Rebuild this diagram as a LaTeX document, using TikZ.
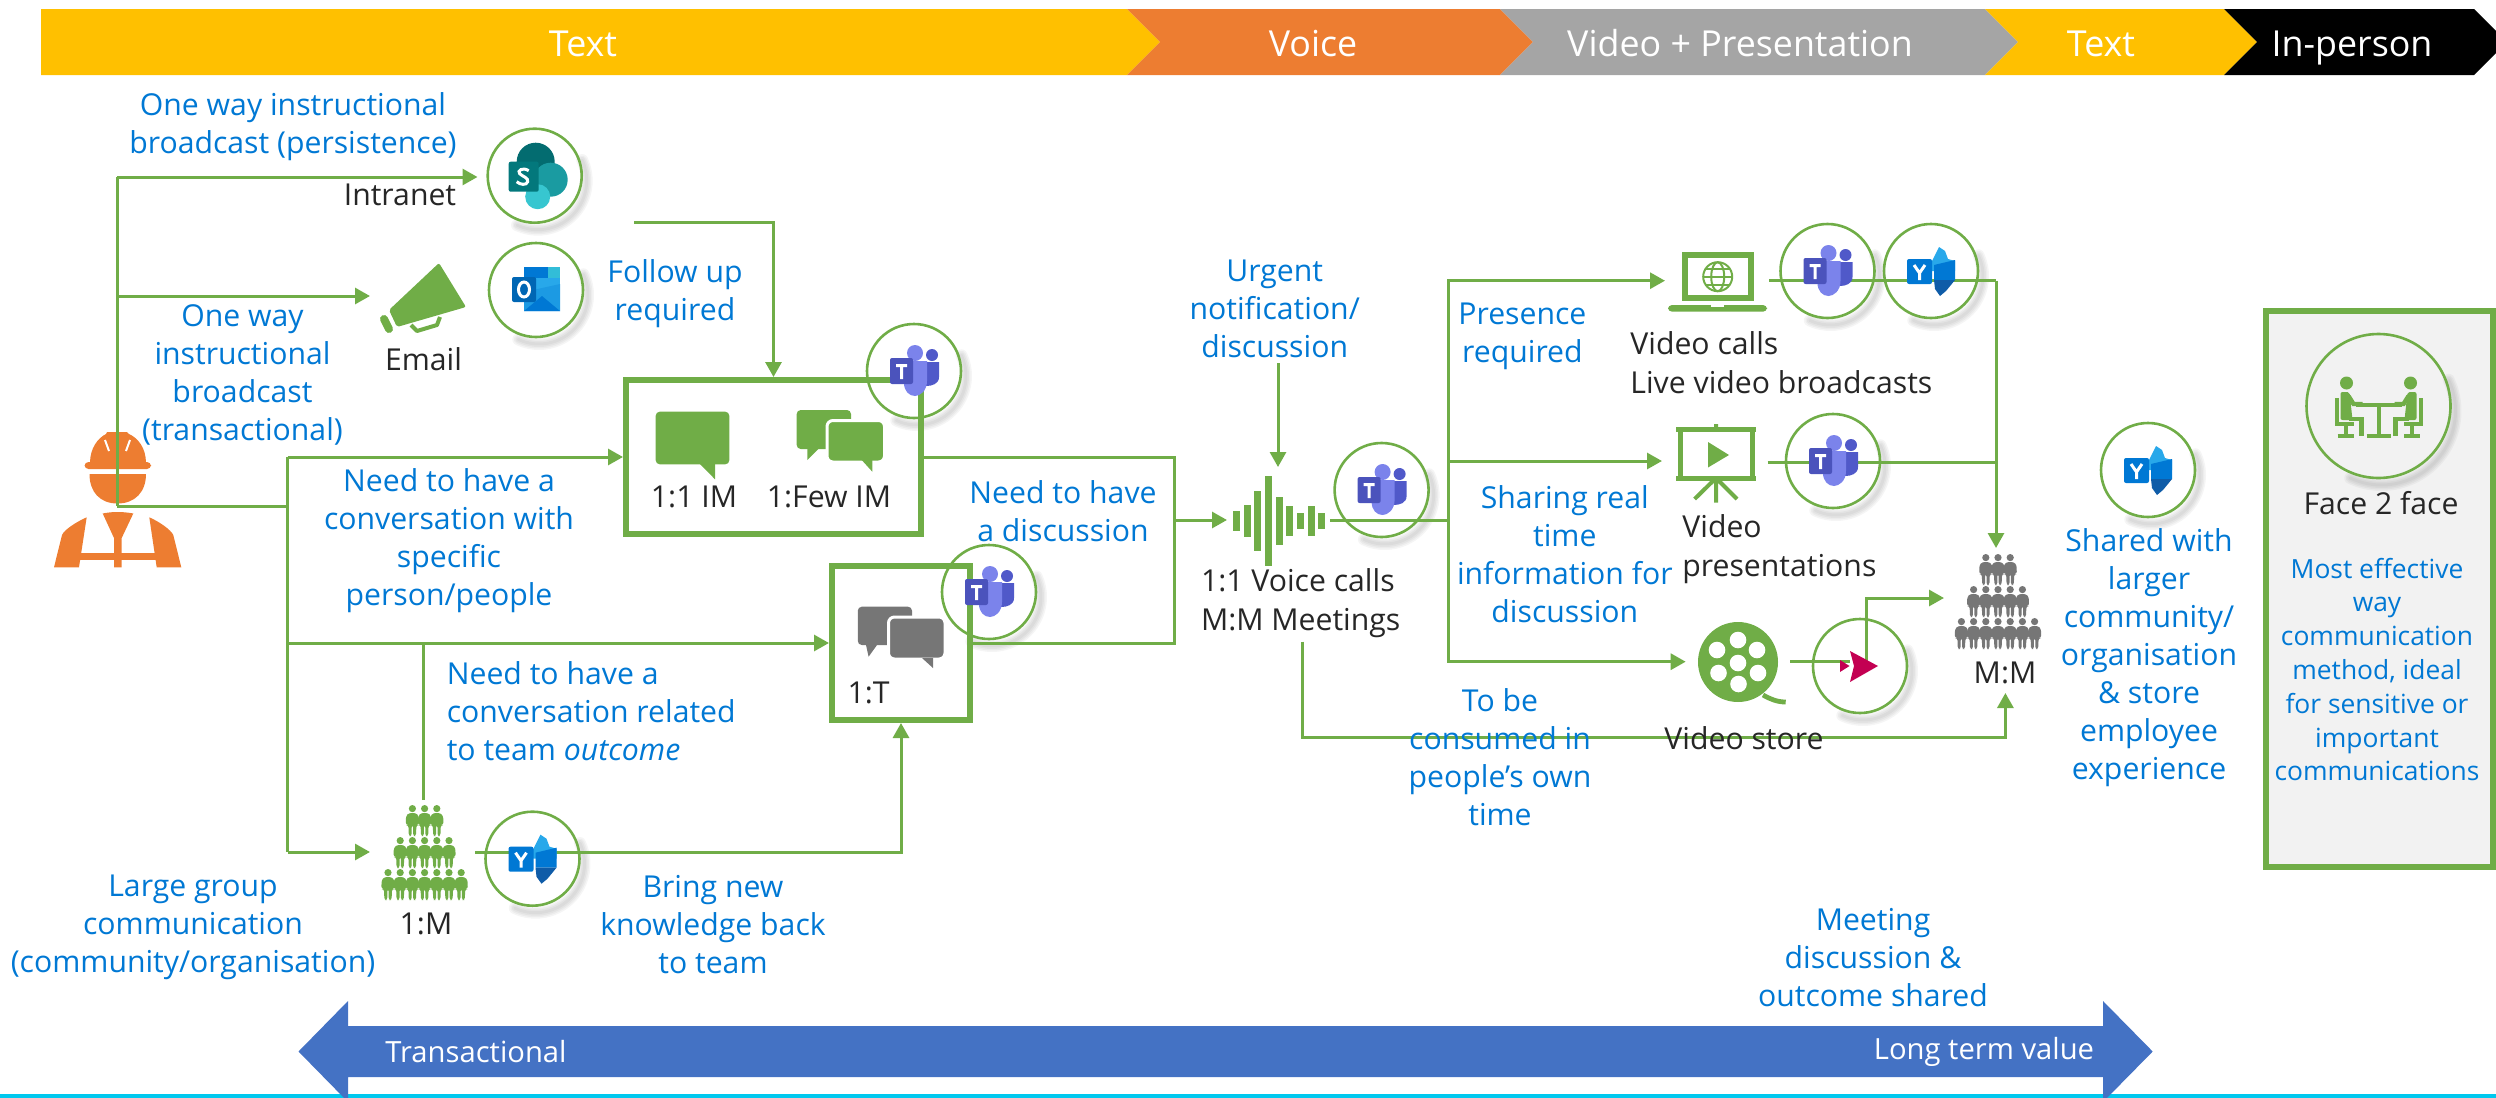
\documentclass[tikz,border=0pt]{standalone}
\usepackage{fontspec}
\setmainfont{Open Sans}
\usetikzlibrary{arrows.meta,calc}
\definecolor{grn}{HTML}{70AD47}
\definecolor{txtblue}{HTML}{0078D4}
\definecolor{ink}{HTML}{262626}
\definecolor{bYellow}{HTML}{FFC000}
\definecolor{bOrange}{HTML}{ED7D31}
\definecolor{bGray}{HTML}{A5A5A5}
\definecolor{bBlue}{HTML}{4472C4}
\definecolor{bCyan}{HTML}{00C8EE}
\definecolor{crowdgray}{HTML}{767676}
\definecolor{panel}{HTML}{F2F2F2}
\definecolor{tmA}{HTML}{5059C9}
\definecolor{tmB}{HTML}{7B83EB}
\definecolor{tmC}{HTML}{4B53BC}
\definecolor{ymA}{HTML}{28A8EA}
\definecolor{ymB}{HTML}{0078D4}
\definecolor{ymC}{HTML}{0F5CA8}
\definecolor{spA}{HTML}{036C70}
\definecolor{spB}{HTML}{1A9BA1}
\definecolor{spC}{HTML}{37C6D0}
\definecolor{spT}{HTML}{03787C}
\definecolor{stream}{HTML}{C30052}
\newcommand{\ringnode}[4]{%
  \foreach \wdt in {1.5,3,4.5,6}{%
    \draw[black!55,opacity=.07,line width=\wdt pt,line cap=round]
      plot[smooth,domain=-25:115,samples=20] ({#2+3+(#4+2)*cos(\x)},{#3+5+(#4+2)*sin(\x)});
  }%
  \node[ring,minimum size=#4*1pt] (#1) at (#2,#3) {};
}
\tikzset{
  x=0.5pt,y=-0.5pt,
  ring/.style={circle,draw=grn,line width=1.3pt,inner sep=0pt},
  conn/.style={draw=grn,line width=1.5pt},
  arr/.style={conn,-{Triangle[length=7.5pt,width=8pt]}},
  heavy/.style={draw=grn,line width=3pt,inner sep=0pt},
  lbl/.style={inner sep=0pt,align=center,text=txtblue,font=\fontsize{15.1}{19}\selectfont},
  dark/.style={inner sep=0pt,align=center,text=ink,font=\fontsize{15.1}{19.5}\selectfont},
  banner/.style={inner sep=0pt,anchor=base,text=white,font=\fontsize{17.9}{20}\selectfont},
  wee/.style={inner sep=0pt,align=center,text=txtblue,font=\fontsize{13.2}{16.9}\selectfont},
  lowtxt/.style={inner sep=0pt,text=white,font=\fontsize{14.6}{16}\selectfont},
  pics/teams/.style={code={
    \fill[tmA] (18,-16) circle[radius=6];
    \fill[tmA] (8,-9)--(25,-9)--(25,6) .. controls (25,13) and (18,15) .. (12,15)--(8,15)--cycle;
    \fill[tmB] (1,-18) circle[radius=8];
    \fill[tmB] (-10,-10)--(13,-10)--(13,10) .. controls (13,20) and (6,25) .. (1,25) .. controls (-5,25) and (-10,20) .. (-10,12)--cycle;
    \fill[tmC,rounded corners=1pt] (-24,-13) rectangle (-1,13);
    \fill[white] (-18,-7)--(-7,-7)--(-7,-4)--(-11,-4)--(-11,8)--(-14,8)--(-14,-4)--(-18,-4)--cycle;
  }},
  pics/yammer/.style={code={
    \fill[ymA] (0,-8)--(8,-24)--(14,-20)--(17,-12)--(24,-10)--(24,0)--(0,0)--cycle;
    \fill[ymB] (3,-6)--(24,-11)--(24,9)--(3,9)--cycle;
    \fill[ymC] (3,9)--(24,9)--(15,20)--(9,25)--(4,18)--cycle;
    \fill[ymB,rounded corners=1pt] (-24,-12) rectangle (1,13);
    \draw[white,line width=1.5pt] (-17,-6)--(-11.5,2)--(-6,-6) (-11.5,2)--(-11.5,9);
  }},
  pics/sharepoint/.style={code={
    \fill[spA] (1,-14) circle[radius=19];
    \fill[spB] (16,4) circle[radius=17];
    \fill[spC] (3,21) circle[radius=12.5];
    \fill[spT,rounded corners=1pt] (-26,-14) rectangle (4,16);
    \draw[white,line width=1.5pt] (-6,-5) .. controls (-12,-9) and (-18,-5) .. (-15,-2) .. controls (-12,1) and (-6,2) .. (-7,6) .. controls (-8,10) and (-15,9) .. (-18,6);
  }},
  pics/outlook/.style={code={
    \fill[ymB] (-12,-23) rectangle (12,0);
    \fill[ymA] (12,-23) rectangle (24,-12);
    \fill[spC!70!ymA] (12,-23) rectangle (24,-12);
    \fill[ymA] (0,-12) rectangle (24,2);
    \fill[ymB!85!black] (-12,-12) rectangle (0,2);
    \fill[ymA!70!ymB] (-12,2)--(24,-6)--(24,21)--(-12,21)--cycle;
    \fill[ymB] (-12,21)--(6,6)--(24,21)--cycle;
    \fill[ymB!85!black,rounded corners=1pt] (-24,-13) rectangle (0,12);
    \draw[white,line width=1.5pt] (-12,-0.5) ellipse[x radius=5.5,y radius=7.5];
  }},
  pics/person/.style={code={
    \fill[#1] (0,3.6) circle[radius=3.6];
    \fill[#1,rounded corners=1.2pt] (-3.5,8)--(3.5,8)--(6.4,11)--(6.6,20)--(4,20)--(3.6,31)--(.7,31)--(.7,20)--(-.7,20)--(-.7,31)--(-3.6,31)--(-4,20)--(-6.6,20)--(-6.4,11)--cycle;
  }},
  pics/crowd/.style={code={
    \foreach \row/\lst in {0/{-1,0,1},1/{-2,-1,0,1,2},2/{-3,-2,-1,0,1,2,3}}{
      \foreach \i in \lst {
        \pic at ({\i*12.2},{\row*32}) {person=#1};
      }
    }
  }},
}
\begin{document}
\begin{tikzpicture}
\useasboundingbox (0,0) rectangle (2496,1098);
\clip (0,0) rectangle (2496,1098);
%---------- banner
\fill[bYellow] (41,9)--(1127,9)--(1160,42)--(1127,75)--(41,75)--cycle;
\fill[bOrange] (1127,9)--(1500,9)--(1533,42)--(1500,75)--(1127,75)--(1160,42)--cycle;
\fill[bGray] (1500,9)--(1985,9)--(2018,42)--(1985,75)--(1500,75)--(1533,42)--cycle;
\fill[bYellow] (1985,9)--(2224,9)--(2257,42)--(2224,75)--(1985,75)--(2018,42)--cycle;
\fill[black] (2224,9)--(2474,9)--(2496,31)--(2496,53)--(2474,75)--(2224,75)--(2257,42)--cycle;
\node[banner] (bnA) at (583,56) {Text};
\node[banner] (bnB) at (1313,56) {Voice};
\node[banner] (bnC) at (1740,56) {Video + Presentation};
\node[banner] (bnD) at (2101,56) {Text};
\node[banner] (bnE) at (2352,56) {In-person};
%---------- bottom band
\fill[bCyan] (0,1094) rectangle (2496,1098);
\fill[bBlue] (298.5,1051.5)--(348,1001)--(348,1026)--(2103,1026)--(2103,1001)--(2152.7,1051.5)--(2103,1102)--(2103,1077)--(348,1077)--(348,1102)--cycle;
\node[lowtxt] (lowT) at (476,1052) {Transactional};
\node[lowtxt] (lowL) at (1984,1052) {Long term value};
%---------- right panel
\fill[panel] (2266,311) rectangle (2493,867);
\node[heavy,minimum width=113.5pt,minimum height=278pt] (f2f) at (2379.5,589) {};
%---------- worker
\begin{scope}[bOrange]
\fill[bOrange,rounded corners=2pt] (84.5,462)--(151,462)--(151,469)--(84.5,469)--cycle;
\fill[bOrange] (90,463) .. controls (90,448) and (98,438) .. (106,434) -- (107,432) -- (127,432) -- (129,434) .. controls (138,438) and (146,448) .. (146,463) -- cycle;
\fill[bOrange] (89.5,474)--(146,474) .. controls (146,492) and (135,503.5) .. (117.5,503.5) .. controls (100,503.5) and (89.5,492) .. (89.5,474)--cycle;
\draw[white,line width=1pt] (105,440)--(109,451) (130,440)--(126,451);
\fill[bOrange] (102.7,513.5) .. controls (112,511.5) and (123,511.5) .. (133.3,513.5) -- (121.7,538) -- (121.7,567.3) -- (114,567.3) -- (114,538) -- cycle;
\fill[bOrange] (86.7,517.3)--(79,567.3)--(54,567.3)--(62,535) .. controls (64,530) and (76,522) .. (86.7,517.3)--cycle;
\fill[bOrange] (149.3,517.3)--(156.7,567.3)--(181.3,567.3)--(173.3,535) .. controls (171,530) and (160,522) .. (149.3,517.3)--cycle;
\fill[bOrange] (79,553.3) rectangle (156.7,560);
\end{scope}
%---------- icon rings (with their soft shadows)
\ringnode{rShare}{534.7}{175.7}{47}
\ringnode{rOutl}{536}{290}{47}
\ringnode{rTeamsIM}{914}{371}{47}
\ringnode{rTeamsT}{989}{592}{47}
\ringnode{rTeamsV}{1381.6}{490}{47}
\ringnode{rTeamsCall}{1827.5}{271}{47}
\ringnode{rYamCall}{1931}{271}{47}
\ringnode{rTeamsPres}{1833}{461}{47}
\ringnode{rYamBig}{2148}{470}{47}
\ringnode{rStream}{1860}{666}{47}
\ringnode{rYamOne}{532.5}{858.7}{47}
\ringnode{rFace}{2378.5}{406}{72}
%---------- boxes
\node[heavy,minimum width=147.5pt,minimum height=77pt] (imbox) at (773.5,457) {};
\node[heavy,minimum width=69pt,minimum height=77pt] (tbox) at (901,643) {};
%---------- junctions and free ends
\coordinate (wk) at (117,506);
\coordinate (trTop) at (117,177);
\coordinate (trMail) at (117,296);
\coordinate (toShare) at (477.5,177);
\coordinate (toMail) at (370,296);
\coordinate (trB) at (287.5,506);
\coordinate (trBim) at (287.5,457);
\coordinate (trBt) at (287.5,643);
\coordinate (trBm) at (287.5,852);
\coordinate (toOne) at (370,852);
\coordinate (oneTop) at (423,800);
\coordinate (oneUp) at (423,643);
\coordinate (oneOut) at (475,852);
\coordinate (fuStart) at (634,222);
\coordinate (dsc) at (1174,520);
\coordinate (toVoice) at (1227,520);
\coordinate (urgFrom) at (1278,363);
\coordinate (urgTo) at (1278,467);
\coordinate (vOut) at (1330,520);
\coordinate (split) at (1448,520);
\coordinate (toLap) at (1665,280.7);
\coordinate (toPres) at (1662,461);
\coordinate (toReel) at (1685.7,661.7);
\coordinate (lapOut) at (1769,280.7);
\coordinate (rise) at (1996,280.7);
\coordinate (mmTop) at (1996,548);
\coordinate (presOut) at (1767.7,462);
\coordinate (presJoin) at (1996,462);
\coordinate (reelOut) at (1790,661.7);
\coordinate (strIn) at (1850,661.7);
\coordinate (strOut) at (1866.7,666);
\coordinate (mmLeft) at (1944,598);
\coordinate (vcDown) at (1302,641.7);
\coordinate (mmUp) at (2005.4,693);
\coordinate (mmLow) at (2005.4,737);
%---------- connectors
\draw[conn] (wk) -- (trTop);
\draw[arr] (trTop) -- (toShare);
\draw[arr] (trMail) -- (toMail);
\draw[conn] (wk) -- (trB);
\draw[conn] (trBim) -- (trBm);
\draw[arr] (trBim) -- (imbox.west);
\draw[arr] (trBt) -- (tbox.west);
\draw[arr] (trBm) -- (toOne);
\draw[conn] (oneTop) -- (oneUp);
\draw[arr] (oneOut) -| (tbox.south);
\draw[arr] (fuStart) -| (imbox.north);
\draw[conn] (imbox.east) -| (dsc);
\draw[conn] (tbox.east) -| (dsc);
\draw[arr] (dsc) -- (toVoice);
\draw[arr] (urgFrom) -- (urgTo);
\draw[conn] (vOut) -- (split);
\draw[arr] (split) |- (toLap);
\draw[arr] (split) |- (toPres);
\draw[arr] (split) |- (toReel);
\draw[conn] (lapOut) -- (rise);
\draw[arr] (rise) -- (mmTop);
\draw[conn] (presOut) -- (presJoin);
\draw[conn] (reelOut) -- (strIn);
\draw[arr] (strOut) |- (mmLeft);
\draw[arr] (vcDown) |- (mmLow) -- (mmUp);
%---------- icons over the lines
\pic at (rShare) {sharepoint};
\pic at (rOutl) {outlook};
\pic at (rTeamsIM) {teams};
\pic at (rTeamsT) {teams};
\pic at (rTeamsV) {teams};
\pic at (rTeamsCall) {teams};
\pic at (rTeamsPres) {teams};
\pic at (rYamCall) {yammer};
\pic at (rYamBig) {yammer};
\pic at (rYamOne) {yammer};
% stream
\fill[stream] (1850,651)--(1878,666)--(1850,682)--(1854,666)--cycle;
\fill[stream] (1840,660)--(1849.5,666)--(1840,672)--cycle;
% megaphone
\fill[grn,rounded corners=1pt] (439,263)--(466,307)--(397,327)--(389,310)--cycle;
\draw[grn,line width=4pt,line cap=round] (384,319)--(389,329);
\draw[grn,line width=2pt,line join=round] (411,325)--(417,331)--(437,325)--(440,317);
% single chat
\fill[grn,rounded corners=2pt] (655.7,411.7) rectangle (729.3,464.3);
\fill[grn] (700,464)--(715,479.3)--(715,464)--cycle;
% few chat
\fill[grn,rounded corners=2pt] (796.7,410) rectangle (851,449);
\fill[grn] (807.3,449)--(807.3,460)--(818.3,449)--cycle;
\fill[grn,draw=white,line width=1.5pt,rounded corners=3pt] (827,420.5) rectangle (884.5,462);
\fill[grn] (861.7,460)--(872.3,471.7)--(872.3,460)--cycle;
% team chat
\fill[crowdgray,rounded corners=2pt] (857.8,606.7) rectangle (912,645);
\fill[crowdgray] (866,645)--(868.6,656.7)--(877,645)--cycle;
\fill[crowdgray,draw=white,line width=1.5pt,rounded corners=3pt] (888.5,617) rectangle (945,659);
\fill[crowdgray] (922,658)--(933,668)--(933,658)--cycle;
% waveform
\foreach \bx/\bh in {1236/20,1247/32,1257/60,1268/90,1279.4/48,1289.5/30,1300/16,1311/30,1321/16}{
  \fill[grn] ({\bx-3.5},{520.7-\bh/2}) rectangle ({\bx+3.5},{520.7+\bh/2});
}
% laptop
\draw[grn,line width=3pt] (1684.7,254.7) rectangle (1751,297.7);
\fill[grn,rounded corners=2pt] (1668,305) rectangle (1767,311.7);
\fill[white] (1711,305) rectangle (1724,307);
\draw[grn,line width=1pt] (1717.7,276.7) circle[radius=14.5];
\draw[grn,line width=1pt] (1717.7,276.7) ellipse[x radius=6.5,y radius=14.5];
\draw[grn,line width=1pt] (1703.2,276.7)--(1732.2,276.7) (1705,269)--(1730,269) (1705,284.5)--(1730,284.5);
% presentation screen
\draw[grn,line width=2.5pt] (1680,431)--(1680,477) (1752,431)--(1752,477);
\draw[grn,line width=2.5pt] (1676,429)--(1756,429) (1676,478)--(1756,478);
\fill[grn] (1708,442)--(1729,455)--(1708,467.5)--cycle;
\draw[grn,line width=2pt] (1716,424)--(1716,429) (1716,478)--(1694.6,499) (1716,478)--(1716,502.6) (1716,478)--(1737,499);
% reel
\fill[grn] (1738,662) circle[radius=40];
\foreach \hx/\hy in {1738/663,1738/640,1717/650,1718.5/673,1738.5/684,1758/673,1757/650}{
  \fill[white] (\hx,\hy) circle[radius=8.3];
}
\draw[grn,line width=2.4pt] (1763,695) .. controls (1770,699) and (1777,702) .. (1785.7,702);
% crowds
\pic at (424.6,805) {crowd=grn};
\pic at (1998,554) {crowd=crowdgray};
% face to face
\begin{scope}[shift={(2378.5,406)}]
  \draw[grn,line width=2pt] (-23,-1)--(23,-1) (0,-1)--(0,30) (-12,30)--(12,30);
  \foreach \s in {1,-1}{
  \begin{scope}[xscale=\s]
    \fill[grn] (-32,-23) circle[radius=6.5];
    \fill[grn,rounded corners=1pt] (-38,-14)--(-29,-14)--(-26,14)--(-38,14)--cycle;
    \draw[grn,line width=2.2pt] (-30,-10)--(-25,-2)--(-16,-2);
    \draw[grn,line width=2.2pt] (-30,13)--(-17,13)--(-17,30);
    \draw[grn,line width=2pt] (-42,-8)--(-42,18)--(-25,18);
    \draw[grn,line width=2pt] (-33,18)--(-33,30) (-41,30)--(-25,30);
  \end{scope}}
\end{scope}
%---------- labels
\node[lbl] (tA) at (293,127) {One way instructional\\broadcast (persistence)};
\node[dark] (tIntra) at (400,195) {Intranet};
\node[dark] (tMail) at (423.5,359) {Email};
\node[lbl] (tB) at (242.5,375) {One way\\instructional\\broadcast\\(transactional)};
\node[lbl] (tFU) at (675,294) {Follow up\\required};
\node[lbl] (tC) at (449,541) {Need to have a\\conversation with\\specific\\person/people};
\node[lbl,align=left,anchor=west] (tD) at (446.4,711.5) {Need to have a\\conversation related\\to team \textit{outcome}};
\node[lbl] (tE) at (193,927) {Large group\\communication\\(community/organisation)};
\node[dark] (tOneM) at (426,924) {1:M};
\node[lbl] (tF) at (713,925) {Bring new\\knowledge back\\to team};
\node[dark] (tIM1) at (694,497) {1:1 IM};
\node[dark] (tIM2) at (829,497) {1:Few IM};
\node[dark] (tOneT) at (868.6,693) {1:T};
\node[lbl] (tG) at (1274.7,308.5) {Urgent\\notification/\\discussion};
\node[lbl] (tH) at (1063,511) {Need to have\\a discussion};
\node[dark,align=left,anchor=west] (tVoice) at (1200.6,603.5) {1:1 Voice calls\\M:M Meetings};
\node[lbl] (tI) at (1522.4,336) {Presence\\required};
\node[lbl] (tJ) at (1564.8,554) {Sharing real\\time\\information for\\discussion};
\node[lbl] (tK) at (1500,757) {To be\\consumed in\\people’s own\\time};
\node[dark,align=left,anchor=west] (tCalls) at (1630,362.5) {Video calls\\Live video broadcasts};
\node[dark,align=left,anchor=west] (tPres) at (1682,549) {Video\\presentations};
\node[dark] (tStore) at (1744,738) {Video store};
\node[dark] (tMM) at (2005,672.6) {M:M};
\node[lbl] (tL) at (2149,658) {Shared with\\larger\\community/\\organisation\\\& store\\employee\\experience};
\node[dark] (tFace) at (2381,503.4) {Face 2 face};
\node[wee] (tM) at (2377,669.5) {Most effective\\way\\communication\\method, ideal\\for sensitive or\\important\\communications};
\node[lbl] (tN) at (1873,958) {Meeting\\discussion \&\\outcome shared};
\end{tikzpicture}
\end{document}
